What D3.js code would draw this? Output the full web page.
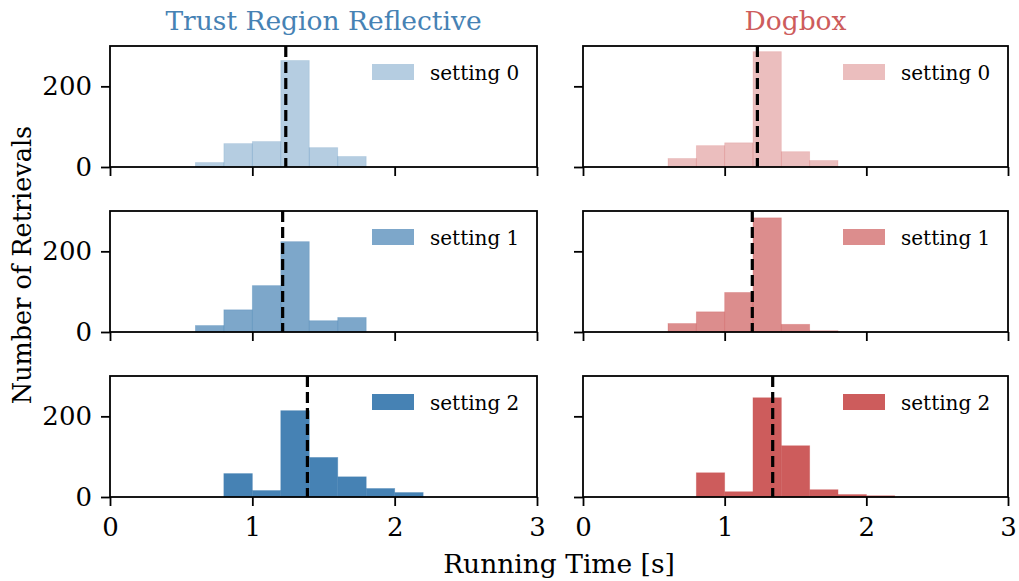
<!DOCTYPE html>
<html>
<head>
<meta charset="utf-8">
<script src="https://cdn.jsdelivr.net/npm/d3@7"></script>
<style>
  body{margin:0;background:#fff}
  svg{font-family:"DejaVu Serif",serif}
</style>
</head>
<body>
<script>
  // histogram bins, 0.2 s wide
  const binStart = [0.6,0.8,1.0,1.2,1.4,1.6,1.8,2.0]
  const binWidth = 0.2
  const settings = ["setting 0","setting 1","setting 2"]
  const trrCounts = [
    [11,58,63,264,48,26,0,0],
    [16,55,115,224,28,36,0,0],
    [0,58,16,214,98,50,21,11]
  ]
  const dogCounts = [
    [21,53,60,286,38,16,0,0],
    [21,50,98,283,19,3,0,0],
    [0,60,13,246,127,18,6,3]
  ]
  const trrMeans = [1.235,1.213,1.387]
  const dogMeans = [1.231,1.195,1.339]
  const xTicks = [0,1,2,3]
  const yTicks = [0,200]
  const alphas = [0.4,0.7,1]

  const methods = [
    {name:"Trust Region Reflective",color:"#4682b4",counts:trrCounts,means:trrMeans,x0:110,x1:537},
    {name:"Dogbox",color:"#cd5c5c",counts:dogCounts,means:dogMeans,x0:583,x1:1008}
  ]
  const rows = [[46,167],[211,332],[376,497]]

  const svg = d3.select("body").append("svg").attr("width",1019).attr("height",581)

  methods.forEach((m,col)=>{
    let x = d3.scaleLinear().domain([0,3]).range([m.x0,m.x1])
    svg.append("text")
      .attr("x",(m.x0+m.x1)/2).attr("y",30)
      .attr("text-anchor","middle")
      .attr("font-size",26.5)
      .attr("fill",m.color)
      .text(m.name)

    rows.forEach((r,i)=>{
      let y = d3.scaleLinear().domain([0,300]).range([r[1],r[0]])
      let g = svg.append("g")
      let data = binStart.map((b,k)=>({b:b,v:m.counts[i][k]})).filter(d=>d.v>0)
      g.selectAll("rect").data(data).join("rect")
        .attr("x",d=>x(d.b))
        .attr("width",d=>x(d.b+binWidth)-x(d.b))
        .attr("y",d=>y(d.v))
        .attr("height",d=>y(0)-y(d.v))
        .attr("fill",m.color)
        .attr("fill-opacity",alphas[i])
        .attr("stroke",m.color)
        .attr("stroke-opacity",alphas[i]*0.5)
        .attr("stroke-width",0.8)

      // mean line
      g.append("line")
        .attr("x1",x(m.means[i])).attr("x2",x(m.means[i]))
        .attr("y1",r[0]).attr("y2",r[1])
        .attr("stroke","#000").attr("stroke-width",3.2)
        .attr("stroke-dasharray","11,5")

      // legend
      g.append("rect")
        .attr("x",m.x1-165).attr("y",r[0]+18)
        .attr("width",42).attr("height",16)
        .attr("fill",m.color).attr("fill-opacity",alphas[i])
      g.append("text")
        .attr("x",m.x1-107).attr("y",r[0]+34)
        .attr("font-size",20)
        .text(settings[i])

      // frame
      g.append("rect")
        .attr("x",m.x0).attr("y",r[0])
        .attr("width",m.x1-m.x0).attr("height",r[1]-r[0])
        .attr("fill","none").attr("stroke","#000").attr("stroke-width",1.8)

      let xAxis = d3.axisBottom(x).tickValues(xTicks).tickSize(9).tickPadding(12)
        .tickFormat(i===2?d3.format("d"):"")
      let ax = g.append("g").attr("transform",`translate(0,${r[1]})`).call(xAxis)
      let yAxis = d3.axisLeft(y).tickValues(yTicks).tickSize(9).tickPadding(9)
        .tickFormat(col===0?d3.format("d"):"")
      let ay = g.append("g").attr("transform",`translate(${m.x0},0)`).call(yAxis)
      ;[ax,ay].forEach(a=>{
        a.select(".domain").remove()
        a.selectAll("line").attr("stroke","#000").attr("stroke-width",1.8)
        a.selectAll("text").attr("font-family","DejaVu Serif").attr("font-size",26).attr("fill","#000")
      })
    })
  })

  svg.append("text")
    .attr("x",559).attr("y",573)
    .attr("text-anchor","middle").attr("font-size",26.5)
    .text("Running Time [s]")
  svg.append("text")
    .attr("transform","translate(31,265) rotate(-90)")
    .attr("text-anchor","middle").attr("font-size",25.5)
    .text("Number of Retrievals")
</script>
</body>
</html>
